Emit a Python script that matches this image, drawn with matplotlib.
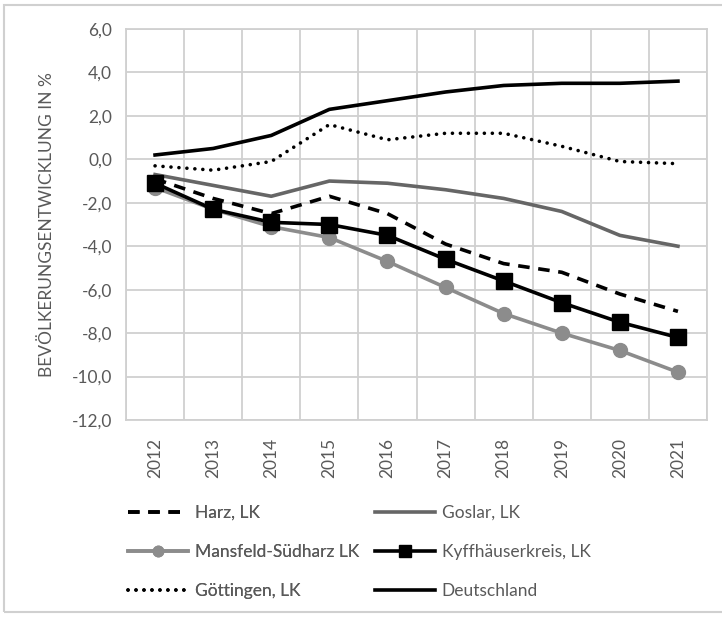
import matplotlib
matplotlib.use("Agg")
import matplotlib.pyplot as plt
from matplotlib.patches import Rectangle
from matplotlib.ticker import FuncFormatter, MultipleLocator

# Daten
years = ["2012", "2013", "2014", "2015", "2016", "2017", "2018", "2019", "2020", "2021"]
harz = [-0.9, -1.8, -2.5, -1.7, -2.5, -3.9, -4.8, -5.2, -6.2, -7.0]
goslar = [-0.7, -1.2, -1.7, -1.0, -1.1, -1.4, -1.8, -2.4, -3.5, -4.0]
mansfeld = [-1.3, -2.3, -3.1, -3.6, -4.7, -5.9, -7.1, -8.0, -8.8, -9.8]
kyffhaeuser = [-1.1, -2.3, -2.9, -3.0, -3.5, -4.6, -5.6, -6.6, -7.5, -8.2]
goettingen = [-0.3, -0.5, -0.1, 1.6, 0.9, 1.2, 1.2, 0.6, -0.1, -0.2]
deutschland = [0.2, 0.5, 1.1, 2.3, 2.7, 3.1, 3.4, 3.5, 3.5, 3.6]

plt.rcParams['font.family'] = ['Lato', 'DejaVu Sans']
grau = '#595959'
W, H = 722, 617

fig = plt.figure(figsize=(W / 100, H / 100), dpi=100)
ax = fig.add_axes([126 / W, 1 - 420 / H, (707 - 126) / W, (420 - 29) / H])

x = list(range(len(years)))
lw = 2.6
l_harz, = ax.plot(x, harz, color='black', lw=lw, dashes=(3.2, 2.4), label='Harz, LK')
l_goslar, = ax.plot(x, goslar, color='#666666', lw=lw, label='Goslar, LK')
l_mans, = ax.plot(x, mansfeld, color='#8c8c8c', lw=lw, marker='o', markersize=10,
                  label='Mansfeld-Südharz LK')
l_kyff, = ax.plot(x, kyffhaeuser, color='black', lw=lw, marker='s', markersize=11,
                  label='Kyffhäuserkreis, LK')
l_goe, = ax.plot(x, goettingen, color='black', lw=lw, dashes=(0.01, 2.2),
                 dash_capstyle='round', label='Göttingen, LK')
l_de, = ax.plot(x, deutschland, color='black', lw=lw, label='Deutschland')

ax.set_xlim(-0.5, 9.5)
ax.set_ylim(-12, 6)
ax.yaxis.set_major_locator(MultipleLocator(2))
ax.yaxis.set_major_formatter(FuncFormatter(lambda v, p: f"{v:.1f}".replace('.', ',')))
ax.set_xticks(x)
ax.set_xticklabels(years, rotation=90)
ax.set_xticks([i - 0.5 for i in range(len(years) + 1)], minor=True)
ax.tick_params(axis='both', which='both', length=0, labelsize=12.5, colors=grau)
ax.tick_params(axis='x', pad=13)
ax.tick_params(axis='y', pad=10)
ax.grid(True, axis='y', which='major', color='#d0d0d0', lw=1.3)
ax.grid(True, axis='x', which='minor', color='#d0d0d0', lw=1.3)
ax.set_axisbelow(True)
for s in ax.spines.values():
    s.set_color('#d0d0d0')
    s.set_linewidth(1.3)

ax.set_ylabel('BEVÖLKERUNGSENTWICKLUNG IN %', fontsize=12.5, color=grau, labelpad=12)

# Legende in zwei Spalten, jede Spalte einzeln platziert
leg_kw = dict(loc='upper left', frameon=False, prop={'size': 12.5, 'weight': 'normal'},
              handlelength=3.45, handletextpad=0.4, labelspacing=1.32, labelcolor=grau,
              markerscale=0.75, borderaxespad=0, borderpad=0)
spalte1 = [l_harz, l_mans, l_goe]
spalte2 = [l_goslar, l_kyff, l_de]
leg1 = fig.legend(spalte1, [h.get_label() for h in spalte1],
                  bbox_to_anchor=(128 / W, 1 - 505 / H), **leg_kw)
fig.legend(spalte2, [h.get_label() for h in spalte2],
           bbox_to_anchor=(375 / W, 1 - 505 / H), **leg_kw)
fig.add_artist(leg1)

fig.patches.append(Rectangle((4 / W, 1 - 612 / H), 730 / W, 607 / H,
                             transform=fig.transFigure, fill=False,
                             edgecolor='#d0d0d0', lw=1.5))

fig.savefig('out.png', dpi=100)
